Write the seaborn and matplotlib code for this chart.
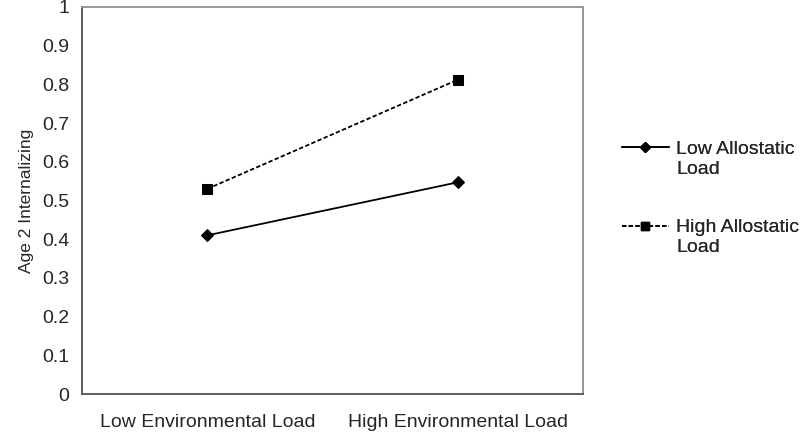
import numpy as np
import pandas as pd
import matplotlib
matplotlib.use("Agg")
import matplotlib.pyplot as plt
from matplotlib.lines import Line2D
import seaborn as sns

env_levels = ["Low Environmental Load", "High Environmental Load"]
low_al = [0.41, 0.547]
high_al = [0.53, 0.812]
series_names = ["Low Allostatic Load", "High Allostatic Load"]

df = pd.DataFrame({
    "x": [0, 1, 0, 1],
    "y": low_al + high_al,
    "group": [series_names[0]] * 2 + [series_names[1]] * 2,
})

sns.set_style("white")
plt.rcParams["font.family"] = ["Liberation Sans", "DejaVu Sans"]

fig = plt.figure(figsize=(8, 4.34), dpi=100)
ax = fig.add_axes([0.1025, 0.092, 0.6263, 0.892])

sns.lineplot(data=df, x="x", y="y", hue="group", style="group",
             palette=["black", "black"], markers=["D", "s"],
             dashes=[(None, None), (2.4, 1.3)], linewidth=1.3,
             markeredgecolor="black", ax=ax, legend=False)
for ln, ms in zip(ax.get_lines()[:2], [6, 6.5]):
    ln.set_markersize(ms)

ax.set_xlim(-0.5, 1.5)
ax.set_ylim(0, 1)
ax.set_yticks(np.arange(0, 1.01, 0.1))
ax.set_yticklabels(["0", "0.1", "0.2", "0.3", "0.4", "0.5", "0.6", "0.7", "0.8", "0.9", "1"])
ax.set_xticks([0, 1])
ax.set_xticklabels(env_levels)
ax.set_xticks([-0.5, 0.5, 1.5], minor=True)
ax.tick_params(axis="x", which="major", length=0, pad=14, labelsize=14)
ax.tick_params(axis="x", which="minor", length=5, width=1, color="#404040", direction="in")
ax.tick_params(axis="y", length=5, width=1, color="#404040", direction="out", labelsize=14, pad=4)
ax.set_xlabel("")
ax.set_ylabel("Age 2 Internalizing", fontsize=12.5, labelpad=6)

for side in ["top", "right"]:
    ax.spines[side].set_color("#909090")
    ax.spines[side].set_linewidth(1.3)
for side in ["left", "bottom"]:
    ax.spines[side].set_color("#505050")
    ax.spines[side].set_linewidth(1.3)

# legend: two blocks, handle next to the first line of each label
blank = Line2D([], [], linestyle="none")
h_low = Line2D([], [], color="black", lw=1.3, marker="D", markersize=5)
h_high = Line2D([], [], color="black", lw=1.3, ls=(0, (2.4, 1.3)), marker="s", markersize=6)
for h, name, ytop in [(h_low, series_names[0], 0.676), (h_high, series_names[1], 0.496)]:
    first, second = name.rsplit(" ", 1)
    leg = fig.legend([h, blank], [first, second], loc="upper left",
                     bbox_to_anchor=(0.7775, ytop), frameon=False, fontsize=14,
                     handlelength=2.4, handletextpad=0.38, labelspacing=0.1,
                     borderpad=0, borderaxespad=0)
    fig.add_artist(leg)

plt.savefig("out.png", dpi=100)
